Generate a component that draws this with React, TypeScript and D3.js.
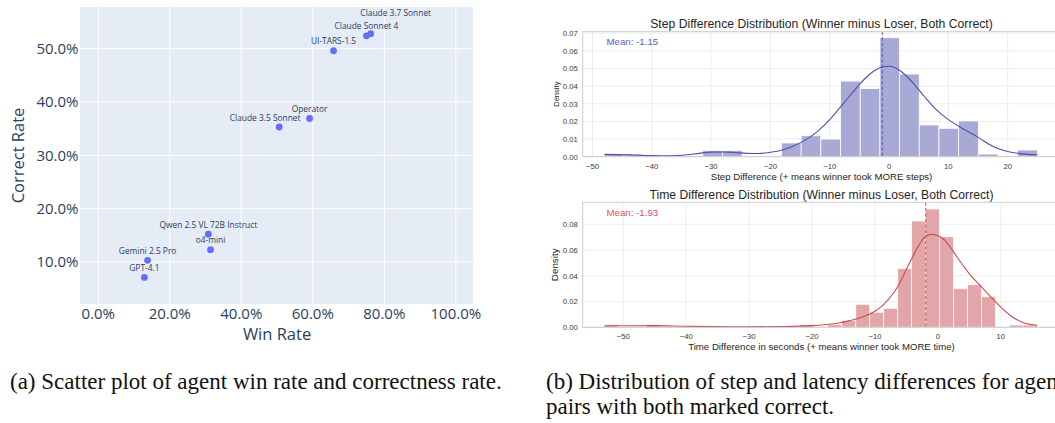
import * as d3 from "d3";
import React, { useRef, useEffect } from "react";

// ---- scatter data (a) ----
const agents = [
  "GPT-4.1",
  "Gemini 2.5 Pro",
  "o4-mini",
  "Qwen 2.5 VL 72B Instruct",
  "Claude 3.5 Sonnet",
  "Operator",
  "UI-TARS-1.5",
  "Claude Sonnet 4",
  "Claude 3.7 Sonnet",
];
const winRate = [0.129, 0.138, 0.314, 0.308, 0.506, 0.591, 0.658, 0.75, 0.762];
const correctRate = [0.071, 0.103, 0.123, 0.152, 0.353, 0.369, 0.496, 0.524, 0.528];
const winTicks = [0, 0.2, 0.4, 0.6, 0.8, 1.0];
const correctTicks = [0.1, 0.2, 0.3, 0.4, 0.5];

// ---- histogram data (b) ----
const stepRange = [-48, 25];
const stepDensity = [
  0.0015, 0.0015, 0, 0, 0, 0.0036, 0.0036, 0, 0, 0.0078, 0.0119, 0.01, 0.0429, 0.0386,
  0.0675, 0.0469, 0.018, 0.0161, 0.0203, 0.0015, 0, 0.0038,
];
const stepKde = [
  [-48, 0.0013], [-44, 0.0011], [-40, 0.0006], [-37, 0.0005], [-34, 0.0011], [-32, 0.0019],
  [-30, 0.0026], [-28, 0.0027], [-26, 0.0024], [-24, 0.0019], [-22, 0.0018], [-20, 0.0025],
  [-18, 0.0038], [-16, 0.0062], [-14, 0.0097], [-12, 0.0145], [-10, 0.021], [-8, 0.029],
  [-7, 0.033], [-6, 0.037], [-5, 0.041], [-4, 0.0445], [-3, 0.0475], [-2, 0.0497], [-1, 0.051],
  [0, 0.0513], [1, 0.0505], [2, 0.0485], [3, 0.0455], [4, 0.042], [5, 0.038], [6, 0.034],
  [8, 0.0265], [10, 0.021], [12, 0.0167], [14, 0.013], [15.3, 0.0104], [17, 0.0068],
  [18.7, 0.0042], [20, 0.003], [21.8, 0.0019], [25, 0.0011],
];
const stepMean = -1.15;
const stepTicksX = [-50, -40, -30, -20, -10, 0, 10, 20];
const stepTicksY = [0, 0.01, 0.02, 0.03, 0.04, 0.05, 0.06, 0.07];

const timeRange = [-53, 15.8];
const timeDensity = [
  0.0023, 0, 0, 0.0023, 0, 0, 0, 0, 0, 0, 0, 0, 0, 0, 0.0023, 0, 0.0023, 0.0054, 0.0179,
  0.0117, 0.0148, 0.0456, 0.0826, 0.0919, 0.0704, 0.03, 0.0331, 0.0238, 0, 0.0018, 0.0018,
];
const timeKde = [
  [-53, 0.001], [-50, 0.0012], [-45, 0.0013], [-40, 0.0008], [-35, 0.0005], [-30, 0.0004],
  [-25, 0.0006], [-20, 0.0013], [-18, 0.002], [-16, 0.0032], [-14, 0.0052], [-12, 0.008],
  [-10, 0.0125], [-9, 0.016], [-8, 0.021], [-7, 0.027], [-6, 0.035], [-5, 0.045], [-4, 0.055],
  [-3, 0.064], [-2, 0.0705], [-1, 0.0722], [0, 0.0712], [1, 0.068], [2, 0.062], [3, 0.0548],
  [4, 0.048], [5, 0.0415], [6.7, 0.0325], [9, 0.0205], [11.4, 0.0096], [13.8, 0.0031],
  [15.8, 0.0016],
];
const timeMean = -1.93;
const timeTicksX = [-50, -40, -30, -20, -10, 0, 10];
const timeTicksY = [0, 0.02, 0.04, 0.06, 0.08];

const labelNudge = { "Claude 3.7 Sonnet": [25, -11], "Claude 3.5 Sonnet": [-14, 0] };

const plotlyFont = "'Open Sans', verdana, arial, sans-serif";
const mplFont = "'Liberation Sans', Arial, sans-serif";

function drawScatter(svg) {
  const left = 80, right = 473, top = 7, bottom = 304;
  const x = d3.scaleLinear().domain([-0.051, 1.048]).range([left, right]);
  const y = d3.scaleLinear().domain([0.0212, 0.578]).range([bottom, top]);
  const g = svg.append("g");
  const fmt = d3.format(".1%");

  g.append("rect")
    .attr("x", left).attr("y", top)
    .attr("width", right - left).attr("height", bottom - top)
    .attr("fill", "#e5ecf6");

  g.selectAll(".xgrid").data(winTicks).join("line")
    .attr("x1", (d) => x(d)).attr("x2", (d) => x(d))
    .attr("y1", top).attr("y2", bottom)
    .attr("stroke", "#fff").attr("stroke-width", 1);
  g.selectAll(".ygrid").data(correctTicks).join("line")
    .attr("y1", (d) => y(d)).attr("y2", (d) => y(d))
    .attr("x1", left).attr("x2", right)
    .attr("stroke", "#fff").attr("stroke-width", 1);

  g.selectAll(".xtick").data(winTicks).join("text")
    .attr("x", (d) => x(d)).attr("y", 318.5)
    .attr("text-anchor", "middle")
    .style("font", `15px ${plotlyFont}`).attr("fill", "#2a3f5f")
    .text((d) => fmt(d));
  g.selectAll(".ytick").data(correctTicks).join("text")
    .attr("x", 78.5).attr("y", (d) => y(d) + 5.3)
    .attr("text-anchor", "end")
    .style("font", `15px ${plotlyFont}`).attr("fill", "#2a3f5f")
    .text((d) => fmt(d));

  g.append("text")
    .attr("x", x(0.5)).attr("y", 340)
    .attr("text-anchor", "middle")
    .style("font", `16.5px ${plotlyFont}`).attr("fill", "#2a3f5f")
    .text("Win Rate");
  g.append("text")
    .attr("transform", `translate(24, ${(top + bottom) / 2}) rotate(-90)`)
    .attr("text-anchor", "middle")
    .style("font", `16.5px ${plotlyFont}`).attr("fill", "#2a3f5f")
    .text("Correct Rate");

  const pts = agents.map((name, i) => ({ name, w: winRate[i], c: correctRate[i] }));
  g.selectAll(".pt").data(pts).join("circle")
    .attr("cx", (d) => x(d.w)).attr("cy", (d) => y(d.c))
    .attr("r", 3.4).attr("fill", "#636efa");
  g.selectAll(".lbl").data(pts).join("text")
    .attr("x", (d) => x(d.w) + (labelNudge[d.name] || [0, 0])[0])
    .attr("y", (d) => y(d.c) - 6.5 + (labelNudge[d.name] || [0, 0])[1])
    .attr("text-anchor", "middle")
    .style("font", `8.4px ${plotlyFont}`).attr("fill", "#2a3f5f")
    .text((d) => d.name);
}

function drawHist(svg, cfg) {
  const left = 582.7, right = 1059;
  const { top, bottom } = cfg;
  const [lo, hi] = cfg.range;
  const pad = (hi - lo) * 0.05;
  const x = d3.scaleLinear().domain([lo - pad, hi + pad]).range([left, right]);
  const y = d3.scaleLinear().domain([0, cfg.yMax]).range([bottom, top]);
  const g = svg.append("g");
  const n = cfg.density.length;
  const bw = (hi - lo) / n;

  g.selectAll(".vg").data(cfg.ticksX).join("line")
    .attr("x1", (d) => x(d)).attr("x2", (d) => x(d))
    .attr("y1", top).attr("y2", bottom)
    .attr("stroke", "#ebebeb").attr("stroke-width", 0.9);
  g.selectAll(".hg").data(cfg.ticksY).join("line")
    .attr("y1", (d) => y(d)).attr("y2", (d) => y(d))
    .attr("x1", left).attr("x2", right)
    .attr("stroke", "#ebebeb").attr("stroke-width", 0.9);

  const bins = cfg.density.map((d, i) => ({ x0: lo + i * bw, x1: lo + (i + 1) * bw, d }));
  g.selectAll(".bar").data(bins.filter((b) => b.d > 0)).join("rect")
    .attr("x", (b) => x(b.x0)).attr("width", (b) => x(b.x1) - x(b.x0))
    .attr("y", (b) => y(b.d)).attr("height", (b) => y(0) - y(b.d))
    .attr("fill", cfg.barColor)
    .attr("stroke", "#fff").attr("stroke-width", 0.8);

  g.append("path")
    .datum(cfg.kde)
    .attr("d", d3.line().x((d) => x(d[0])).y((d) => y(d[1])).curve(d3.curveMonotoneX))
    .attr("fill", "none").attr("stroke", cfg.lineColor).attr("stroke-width", 1.1);

  g.append("line")
    .attr("x1", x(cfg.mean)).attr("x2", x(cfg.mean))
    .attr("y1", top).attr("y2", bottom)
    .attr("stroke", cfg.lineColor).attr("stroke-width", 1)
    .attr("stroke-dasharray", "3.5,2");

  // spines
  g.append("path")
    .attr("d", `M${right},${top}H${left}V${bottom}H${right}`)
    .attr("fill", "none").attr("stroke", "#cccccc").attr("stroke-width", 1);

  g.selectAll(".xt").data(cfg.ticksX).join("text")
    .attr("x", (d) => x(d)).attr("y", bottom + 12)
    .attr("text-anchor", "middle")
    .style("font", `7.7px ${mplFont}`).attr("fill", "#3a3a3a")
    .text((d) => d3.format("d")(d).replace("-", "\u2212"));
  g.selectAll(".yt").data(cfg.ticksY).join("text")
    .attr("x", left - 5).attr("y", (d) => y(d) + 2.8)
    .attr("text-anchor", "end")
    .style("font", `7.7px ${mplFont}`).attr("fill", "#3a3a3a")
    .text((d) => d3.format(".2f")(d));

  g.append("text")
    .attr("x", 821.5).attr("y", top - 3.5)
    .attr("text-anchor", "middle")
    .style("font", `12.2px ${mplFont}`).attr("fill", "#262626")
    .text(cfg.title);
  g.append("text")
    .attr("x", 821.5).attr("y", bottom + 23)
    .attr("text-anchor", "middle")
    .style("font", `9.65px ${mplFont}`).attr("fill", "#262626")
    .text(cfg.xLabel);
  g.append("text")
    .attr("transform", `translate(${cfg.yLabelX}, ${(top + bottom) / 2}) rotate(-90)`)
    .attr("text-anchor", "middle")
    .style("font", `${cfg.yLabelSize}px ${mplFont}`).attr("fill", "#262626")
    .text("Density");
  g.append("text")
    .attr("x", 606.5).attr("y", top + 13.5)
    .style("font", `9.7px ${mplFont}`).attr("fill", cfg.textColor)
    .text(`Mean: ${cfg.mean.toFixed(2)}`);
}

function App() {
  const ref = useRef(null);

  useEffect(() => {
    const svg = d3.select(ref.current);
    svg.selectAll("*").remove();
    svg.append("rect").attr("width", 1055).attr("height", 423).attr("fill", "#fff");

    drawScatter(svg);

    drawHist(svg, {
      top: 31.7, bottom: 156.7, range: stepRange, yMax: 0.0709,
      density: stepDensity, kde: stepKde, mean: stepMean,
      ticksX: stepTicksX, ticksY: stepTicksY,
      barColor: "#a9a9d5", lineColor: "#5050aa", textColor: "#5c5cb5",
      title: "Step Difference Distribution (Winner minus Loser, Both Correct)",
      xLabel: "Step Difference (+ means winner took MORE steps)",
      yLabelX: 558.5, yLabelSize: 7.6,
    });
    drawHist(svg, {
      top: 202.3, bottom: 327.3, range: timeRange, yMax: 0.0971,
      density: timeDensity, kde: timeKde, mean: timeMean,
      ticksX: timeTicksX, ticksY: timeTicksY,
      barColor: "#e3a6a8", lineColor: "#c94d52", textColor: "#d4575b",
      title: "Time Difference Distribution (Winner minus Loser, Both Correct)",
      xLabel: "Time Difference in seconds (+ means winner took MORE time)",
      yLabelX: 558, yLabelSize: 9.8,
    });

    const cap = svg.append("g").style("font", "23px 'Liberation Serif', 'Times New Roman', serif").attr("fill", "#111");
    cap.append("text").attr("x", 10).attr("y", 389).text("(a) Scatter plot of agent win rate and correctness rate.");
    cap.append("text").attr("x", 546).attr("y", 389).text("(b) Distribution of step and latency differences for agent");
    cap.append("text").attr("x", 546).attr("y", 414).text("pairs with both marked correct.");
  }, []);

  return (
    <svg
      ref={ref}
      width={1055}
      height={423}
      style={{ position: "absolute", left: 0, top: 0, display: "block" }}
    ></svg>
  );
}

export default App;
